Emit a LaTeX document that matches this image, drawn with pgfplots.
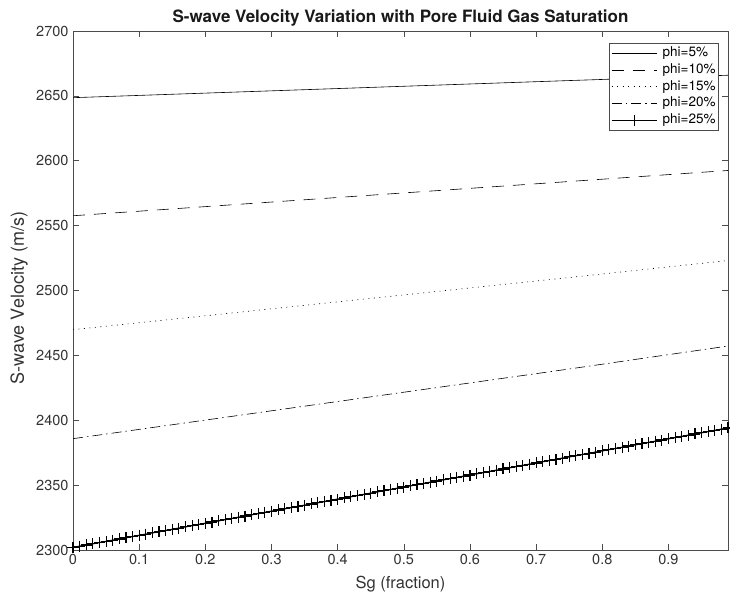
\documentclass[border=0pt]{standalone}
\usepackage{fontspec}
\setmainfont{TeX Gyre Heros}
\usepackage{pgfplots}
\pgfplotsset{compat=1.18}
\begin{document}
\begin{tikzpicture}
\begin{axis}[
  scale only axis,
  width=655pt, height=519pt,
  xmin=0, xmax=0.99, ymin=2300, ymax=2700,
  xtick={0,0.1,0.2,0.3,0.4,0.5,0.6,0.7,0.8,0.9},
  xticklabels={0,0.1,0.2,0.3,0.4,0.5,0.6,0.7,0.8,0.9},
  ytick={2300,2350,2400,2450,2500,2550,2600,2650,2700},
  /pgf/number format/assume math mode=true,
  /pgf/number format/1000 sep={},
  tick align=inside,
  major tick length=6pt,
  axis line style={black!70, line width=0.5pt},
  tick style={black!70, line width=0.5pt},
  ticklabel style={font=\fontsize{14.5}{16}\selectfont, text=black!80},
  xticklabel style={yshift=-1pt},
  yticklabel style={xshift=-1pt},
  title={S-wave Velocity Variation with Pore Fluid Gas Saturation},
  every axis title/.style={at={(axis description cs:0.5,1.0173)}, anchor=base, font=\fontsize{17}{19}\selectfont\bfseries, text=black!90},
  xlabel={Sg (fraction)},
  ylabel={S-wave Velocity (m/s)},
  every axis x label/.style={at={(axis description cs:0.5,-0.0751)}, anchor=base, font=\fontsize{16.5}{18}\selectfont, text=black!80},
  every axis y label/.style={at={(axis description cs:-0.0824,0.4855)}, rotate=90, anchor=center, font=\fontsize{18}{20}\selectfont, text=black!80},
  legend style={at={(0.986,0.977)}, anchor=north east, font=\fontsize{13.5}{15}\selectfont, draw=black!70, line width=0.5pt, inner sep=1.5pt, row sep=0pt, column sep=4pt,
    nodes={inner sep=1.5pt, text height=10.3pt, text depth=3.5pt}, cells={anchor=west}},
  legend image code/.code={\draw[mark repeat=2, mark phase=2, #1] plot coordinates {(0pt,0pt) (22.5pt,0pt) (45pt,0pt)};},
]
\addplot[black, line width=0.6pt] coordinates {(0,2648.6) (0.25,2653.0) (0.5,2657.4) (0.75,2661.8) (0.99,2665.9)};
\addlegendentry{phi=5\%}
\addplot[black, line width=0.6pt, dash pattern=on 12pt off 9pt] coordinates {(0,2557.6) (0.25,2566.4) (0.5,2575.2) (0.75,2584.0) (0.99,2592.5)};
\addlegendentry{phi=10\%}
\addplot[black, line width=0.6pt, dash pattern=on 1pt off 4.5pt] coordinates {(0,2469.8) (0.25,2483.2) (0.5,2496.6) (0.75,2510.0) (0.99,2523.1)};
\addlegendentry{phi=15\%}
\addplot[black, line width=0.6pt, dash pattern=on 10pt off 4pt on 1.5pt off 4pt] coordinates {(0,2385.8) (0.25,2403.7) (0.5,2421.6) (0.75,2439.5) (0.99,2457.2)};
\addlegendentry{phi=20\%}
\addplot[black, line width=1.2pt, mark=+, mark size=5.5pt, mark options={solid, line width=1.15pt}] coordinates {
(0.00,2302.00) (0.01,2302.93) (0.02,2303.86) (0.03,2304.79) (0.04,2305.72) (0.05,2306.65) (0.06,2307.58) (0.07,2308.51) (0.08,2309.44) (0.09,2310.37)
(0.10,2311.30) (0.11,2312.23) (0.12,2313.16) (0.13,2314.09) (0.14,2315.02) (0.15,2315.95) (0.16,2316.88) (0.17,2317.81) (0.18,2318.74) (0.19,2319.67)
(0.20,2320.60) (0.21,2321.53) (0.22,2322.46) (0.23,2323.39) (0.24,2324.32) (0.25,2325.25) (0.26,2326.18) (0.27,2327.11) (0.28,2328.04) (0.29,2328.97)
(0.30,2329.90) (0.31,2330.83) (0.32,2331.76) (0.33,2332.69) (0.34,2333.62) (0.35,2334.55) (0.36,2335.48) (0.37,2336.41) (0.38,2337.34) (0.39,2338.27)
(0.40,2339.20) (0.41,2340.13) (0.42,2341.06) (0.43,2341.99) (0.44,2342.92) (0.45,2343.85) (0.46,2344.78) (0.47,2345.71) (0.48,2346.64) (0.49,2347.57)
(0.50,2348.50) (0.51,2349.43) (0.52,2350.36) (0.53,2351.29) (0.54,2352.22) (0.55,2353.15) (0.56,2354.08) (0.57,2355.01) (0.58,2355.94) (0.59,2356.87)
(0.60,2357.80) (0.61,2358.73) (0.62,2359.66) (0.63,2360.59) (0.64,2361.52) (0.65,2362.45) (0.66,2363.38) (0.67,2364.31) (0.68,2365.24) (0.69,2366.17)
(0.70,2367.10) (0.71,2368.03) (0.72,2368.96) (0.73,2369.89) (0.74,2370.82) (0.75,2371.75) (0.76,2372.68) (0.77,2373.61) (0.78,2374.54) (0.79,2375.47)
(0.80,2376.40) (0.81,2377.33) (0.82,2378.26) (0.83,2379.19) (0.84,2380.12) (0.85,2381.05) (0.86,2381.98) (0.87,2382.91) (0.88,2383.84) (0.89,2384.77)
(0.90,2385.70) (0.91,2386.63) (0.92,2387.56) (0.93,2388.49) (0.94,2389.42) (0.95,2390.35) (0.96,2391.28) (0.97,2392.21) (0.98,2393.14) (0.99,2394.07)
};
\addlegendentry{phi=25\%}
\end{axis}
\pgfresetboundingbox
\path[use as bounding box] ([shift={(-73pt,-47pt)}]current axis.south west) rectangle ([shift={(2pt,31pt)}]current axis.north east);
\end{tikzpicture}
\end{document}
